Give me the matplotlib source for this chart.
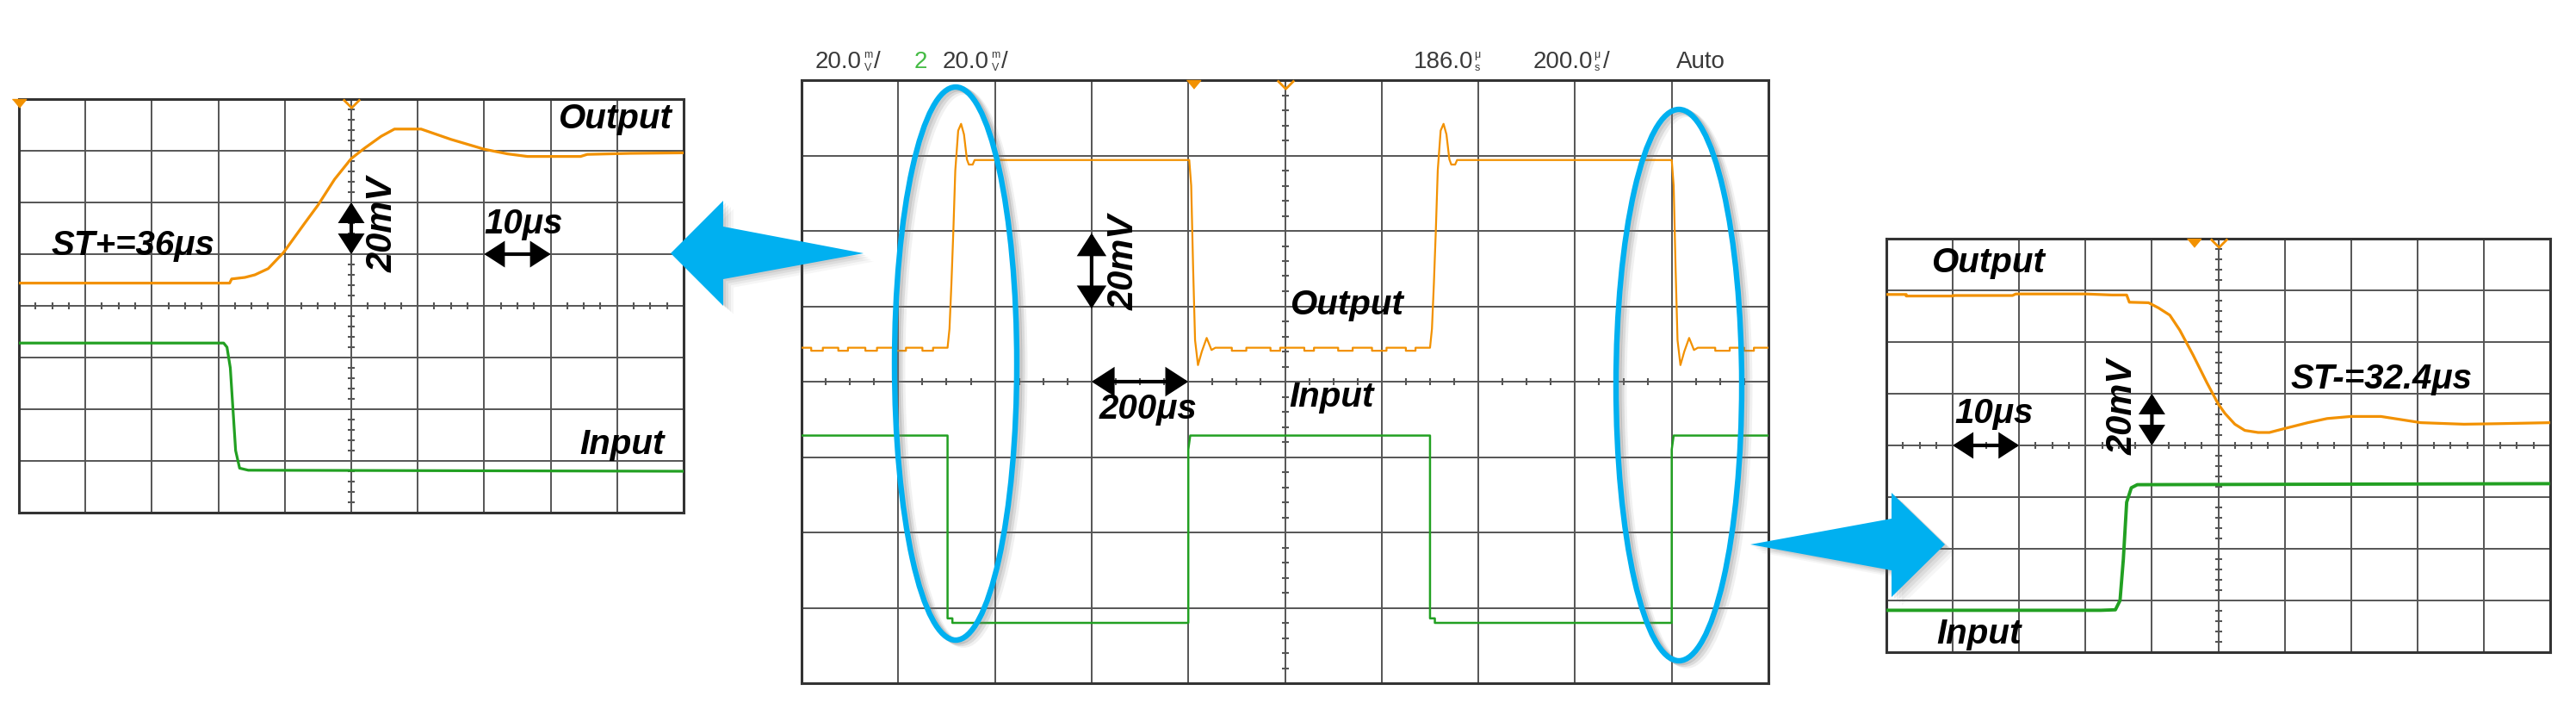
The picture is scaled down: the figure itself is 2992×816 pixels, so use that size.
import matplotlib
matplotlib.use("Agg")
from matplotlib import pyplot as plt
from matplotlib.patches import Polygon, Ellipse

# 波形数据，单位: 格 (x 0..10, y 0..8)
left_out_x = [0, 3.17, 3.2, 3.4, 3.55, 3.75, 3.98, 4.3, 4.5, 4.75, 5.0, 5.2, 5.45, 5.65, 6.05,
              6.5, 7.0, 7.35, 7.65, 8.45, 8.55, 9.2, 10]
left_out_y = [4.44, 4.44, 4.52, 4.55, 4.6, 4.72, 5.03, 5.6, 5.95, 6.45, 6.85, 7.05, 7.28, 7.42, 7.42,
              7.22, 7.03, 6.94, 6.89, 6.89, 6.93, 6.95, 6.96]
left_in_x = [0, 3.08, 3.13, 3.18, 3.22, 3.26, 3.32, 3.45, 10]
left_in_y = [3.28, 3.28, 3.2, 2.8, 2.0, 1.2, 0.86, 0.82, 0.8]

mid_out_x = [0.0, 0.10, 0.10, 0.22, 0.22, 0.38, 0.38, 0.48, 0.48, 0.66, 0.66, 0.78, 0.78, 0.95, 0.95,
             1.08, 1.08, 1.25, 1.25, 1.36, 1.36, 1.51,
             1.53, 1.55, 1.57, 1.59, 1.62, 1.65, 1.68, 1.71, 1.73, 1.77, 1.79, 4.01,
             4.03, 4.05, 4.07, 4.10, 4.14, 4.19, 4.24, 4.28,
             4.45, 4.45, 4.6, 4.6, 4.85, 4.85, 4.95, 4.95, 5.2, 5.2, 5.3, 5.3, 5.55, 5.55, 5.7, 5.7,
             5.9, 5.9, 6.05, 6.05, 6.25, 6.25, 6.35, 6.35, 6.5,
             6.52, 6.54, 6.56, 6.58, 6.61, 6.64, 6.67, 6.70, 6.72, 6.76, 6.78, 9.0,
             9.02, 9.04, 9.06, 9.09, 9.13, 9.18, 9.23, 9.27,
             9.45, 9.45, 9.6, 9.6, 9.75, 9.75, 9.85, 9.85, 10]
mid_out_y = [4.45, 4.45, 4.41, 4.41, 4.45, 4.45, 4.41, 4.41, 4.45, 4.45, 4.41, 4.41, 4.45, 4.45, 4.41,
             4.41, 4.45, 4.45, 4.41, 4.41, 4.45, 4.45,
             4.7, 5.3, 6.0, 6.8, 7.33, 7.42, 7.28, 6.95, 6.88, 6.88, 6.94, 6.94,
             6.6, 5.5, 4.55, 4.22, 4.40, 4.58, 4.42, 4.45,
             4.45, 4.41, 4.41, 4.45, 4.45, 4.41, 4.41, 4.45, 4.45, 4.41, 4.41, 4.45, 4.45, 4.41, 4.41, 4.45,
             4.45, 4.41, 4.41, 4.45, 4.45, 4.41, 4.41, 4.45, 4.45,
             4.7, 5.3, 6.0, 6.8, 7.33, 7.42, 7.28, 6.95, 6.88, 6.88, 6.94, 6.94,
             6.6, 5.5, 4.55, 4.22, 4.40, 4.58, 4.42, 4.45,
             4.45, 4.41, 4.41, 4.45, 4.45, 4.41, 4.41, 4.45, 4.45]
mid_in_x = [0, 1.51, 1.51, 1.56, 1.56, 4.0, 4.0, 4.02, 6.5, 6.5, 6.55, 6.55, 9.0, 9.0, 9.02, 10]
mid_in_y = [3.285, 3.285, 0.86, 0.86, 0.80, 0.80, 3.1, 3.285, 3.285, 0.86, 0.86, 0.80, 0.80, 3.1, 3.285, 3.285]

right_out_x = [0, 0.3, 0.3, 1.0, 1.0, 1.9, 1.95, 3.0, 3.4, 3.62, 3.66, 3.95, 4.1, 4.27, 4.42, 4.62,
               4.83, 5.0, 5.1, 5.25, 5.4, 5.6, 5.77, 5.98, 6.35, 6.64, 7.0, 7.45, 7.75, 8.05, 8.7, 9.2, 10]
right_out_y = [6.92, 6.92, 6.89, 6.89, 6.90, 6.90, 6.93, 6.93, 6.91, 6.91, 6.77, 6.76, 6.66, 6.52, 6.23, 5.75,
               5.21, 4.8, 4.62, 4.41, 4.29, 4.25, 4.25, 4.32, 4.44, 4.52, 4.56, 4.56, 4.5, 4.44, 4.41, 4.42, 4.44]
right_in_x = [0, 3.23, 3.45, 3.52, 3.57, 3.62, 3.69, 3.78, 10]
right_in_y = [0.81, 0.81, 0.82, 1.0, 1.8, 2.9, 3.18, 3.24, 3.26]

header_left = ["20.0", "2", "20.0"]
header_right = ["186.0", "200.0", "Auto"]

ORANGE = "#F29100"
GREEN = "#22A022"
BLUE = "#00B0F0"
GRID = "#555555"
FONT = ["Liberation Sans", "DejaVu Sans"]
W, H = 2992, 816

fig = plt.figure(figsize=(29.92, 8.16), dpi=100)


def panel(x0, y0, x1, y1):
    ax = fig.add_axes([x0 / W, 1 - y1 / H, (x1 - x0) / W, (y1 - y0) / H])
    ax.set_xlim(0, 10)
    ax.set_ylim(0, 8)
    ax.set_xticks([])
    ax.set_yticks([])
    for v in range(1, 10):
        ax.axvline(v, color=GRID, lw=1.4, zorder=1)
    for h in range(1, 8):
        ax.axhline(h, color=GRID, lw=1.4, zorder=1)
    xt = [i / 4 for i in range(1, 40) if i % 4]
    yt = [i / 5 for i in range(1, 40) if i % 5]
    ax.plot(xt, [4] * len(xt), ls="none", marker="|", ms=6, mew=1.5, color=GRID, zorder=1)
    ax.plot([5] * len(yt), yt, ls="none", marker="_", ms=6, mew=1.5, color=GRID, zorder=1)
    for s in ax.spines.values():
        s.set_color("#333333")
        s.set_linewidth(2.2)
    return ax


def trig(ax, xpos):
    ax.plot([xpos], [8], ls="none", marker=[(-1, 0), (1, 0), (0, -1.2)], ms=14, color=ORANGE,
            clip_on=False, zorder=6)
    ax.plot([5], [8], ls="none", marker=[(-1, 0), (0, -1), (1, 0)], ms=14, mfc="none", mec=ORANGE,
            mew=2, clip_on=False, zorder=6)


def label(ax, x, y, s, size=29, rot=0):
    ax.text(x, y, s, fontsize=size, fontweight="bold", fontstyle="italic", family=FONT,
            ha="center", va="center", rotation=rot, zorder=5)


def darrow(ax, p, q, scale=20):
    ax.annotate("", xy=q, xytext=p,
                arrowprops=dict(arrowstyle="<|-|>,head_length=0.65,head_width=0.42", lw=3.0,
                                color="black", mutation_scale=scale, shrinkA=0, shrinkB=0,
                                joinstyle="miter"),
                zorder=5)


# 左图
axl = panel(22, 115, 794, 595)
axl.plot(left_out_x, left_out_y, color=ORANGE, lw=2.3, zorder=3)
axl.plot(left_in_x, left_in_y, color=GREEN, lw=2.3, zorder=3)
trig(axl, 0.0)
label(axl, 8.96, 7.61, "Output")
label(axl, 1.71, 5.17, "ST+=36\u03bcs")
label(axl, 7.59, 5.58, "10\u03bcs")
label(axl, 5.47, 5.57, "20mV", size=30, rot=90)
label(axl, 9.08, 1.31, "Input")
darrow(axl, (5.0, 5.0), (5.0, 6.0))
darrow(axl, (7.0, 5.0), (8.0, 5.0))

# 中图
axm = panel(931, 93, 2054, 793)
axm.plot(mid_out_x, mid_out_y, color=ORANGE, lw=1.6, zorder=3)
axm.plot(mid_in_x, mid_in_y, color=GREEN, lw=1.8, zorder=3)
trig(axm, 4.05)
label(axm, 3.34, 5.58, "20mV", size=30, rot=90)
label(axm, 5.64, 5.02, "Output")
label(axm, 3.58, 3.63, "200\u03bcs")
label(axm, 5.48, 3.80, "Input")
darrow(axm, (3.0, 4.97), (3.0, 5.97), scale=23)
darrow(axm, (3.0, 4.0), (4.0, 4.0), scale=23)

# 右图
axr = panel(2191, 277, 2962, 757)
axr.plot(right_out_x, right_out_y, color=ORANGE, lw=2.3, zorder=3)
axr.plot(right_in_x, right_in_y, color=GREEN, lw=2.8, zorder=3)
trig(axr, 4.63)
label(axr, 1.53, 7.54, "Output")
label(axr, 7.46, 5.29, "ST-=32.4\u03bcs")
label(axr, 1.62, 4.62, "10\u03bcs")
label(axr, 3.56, 4.74, "20mV", size=30, rot=90)
label(axr, 1.39, 0.35, "Input")
darrow(axr, (4.0, 4.0), (4.0, 5.0))
darrow(axr, (1.0, 4.0), (2.0, 4.0))

# 覆盖层: 示波器标题、椭圆、箭头 (像素坐标)
ov = fig.add_axes([0, 0, 1, 1], zorder=10)
ov.set_xlim(0, W)
ov.set_ylim(H, 0)
ov.axis("off")

hdr = dict(fontsize=20, family=FONT, color="#3a3a3a", va="center", ha="left")
small = dict(fontsize=9, family=FONT, color="#3a3a3a", va="center", ha="center")
ov.text(947, 72, header_left[0], **hdr)
ov.text(1008, 64, "m", **small)
ov.text(1008, 79, "V", **small)
ov.text(1015, 72, "/", **hdr)
ov.text(1062, 72, header_left[1], fontsize=20, family=FONT, color="#44bb44", va="center", ha="left")
ov.text(1095, 72, header_left[2], **hdr)
ov.text(1156, 64, "m", **small)
ov.text(1156, 79, "V", **small)
ov.text(1163, 72, "/", **hdr)
ov.text(1642, 72, header_right[0], **hdr)
ov.text(1716, 64, "\u03bc", **small)
ov.text(1716, 79, "s", **small)
ov.text(1781, 72, header_right[1], **hdr)
ov.text(1855, 64, "\u03bc", **small)
ov.text(1855, 79, "s", **small)
ov.text(1862, 72, "/", **hdr)
ov.text(1947, 72, header_right[2], **hdr)

for cx, cy, ew, eh in [(1110, 422, 142, 642), (1950, 447, 146, 640)]:
    for k, a in [(9, 0.10), (6, 0.18), (3, 0.25)]:
        ov.add_patch(Ellipse((cx + k, cy + k * 0.6), ew, eh, fill=False, ec="#777777", lw=5, alpha=a))
    ov.add_patch(Ellipse((cx, cy), ew, eh, fill=False, ec=BLUE, lw=4.6))

arrow_l = [(779, 294), (840, 233), (840, 263), (1003, 294), (840, 324), (840, 355)]
arrow_r = [(2033, 632), (2197, 602), (2197, 572), (2259, 632), (2197, 693), (2197, 662)]
for pts in (arrow_l, arrow_r):
    for k, a in [(12, 0.06), (9, 0.08), (6, 0.10), (3, 0.12)]:
        ov.add_patch(Polygon([(x + k, y + k * 0.8) for x, y in pts], closed=True, fc="#666666",
                             ec="none", alpha=a))
    ov.add_patch(Polygon(pts, closed=True, fc=BLUE, ec="none"))

plt.savefig("out.png", dpi=100)
